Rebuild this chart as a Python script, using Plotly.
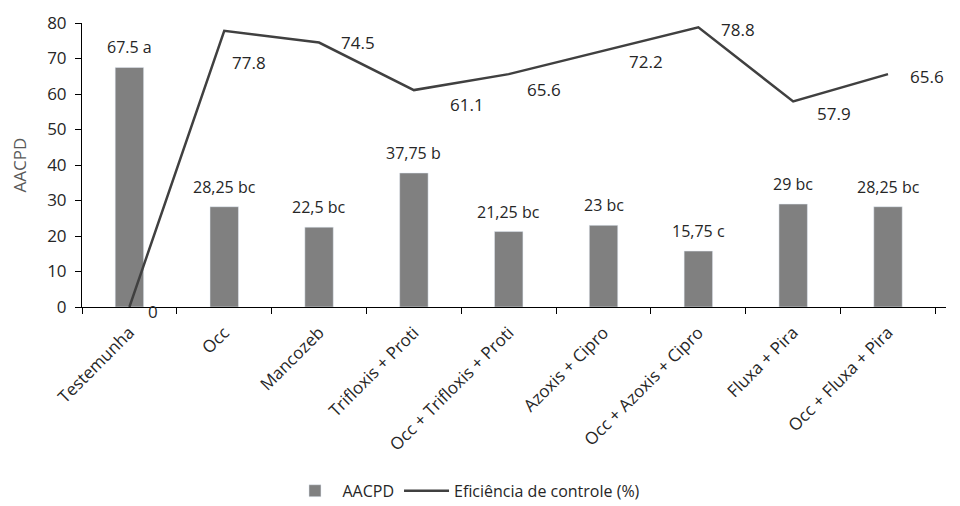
import plotly.graph_objects as go

# Treatments and results
tratamentos = ["Testemunha", "Occ", "Mancozeb", "Trifloxis + Proti", "Occ + Trifloxis + Proti",
               "Azoxis + Cipro", "Occ + Azoxis + Cipro", "Fluxa + Pira", "Occ + Fluxa + Pira"]
aacpd = [67.5, 28.25, 22.5, 37.75, 21.25, 23, 15.75, 29, 28.25]
aacpd_rotulos = ["67.5 a", "28,25 bc", "22,5 bc", "37,75 b", "21,25 bc", "23 bc", "15,75 c", "29 bc", "28,25 bc"]
eficiencia = [0, 77.8, 74.5, 61.1, 65.6, 72.2, 78.8, 57.9, 65.6]

# Label offsets (px) for the efficiency values
ef_dx = [24, 25, 39, 53, 35, 42, 40, 41, 39]
ef_dy = [-4, -32, 0, -14, -15, -11, -2, -12, -2]

FONT = "Open Sans"
TXT = "#262626"

fig = go.Figure()
fig.add_trace(go.Bar(x=tratamentos, y=aacpd, name="AACPD", marker_color="#808080",
                     width=0.3))
fig.add_trace(go.Scatter(x=tratamentos, y=eficiencia, name="Eficiência de controle (%)",
                         mode="lines", line=dict(color="#404040", width=2.5)))

for t, v, s in zip(tratamentos, aacpd, aacpd_rotulos):
    fig.add_annotation(x=t, y=v, text=s, showarrow=False, yshift=20,
                       font=dict(family=FONT, size=16, color=TXT))
for t, v, dx, dy in zip(tratamentos, eficiencia, ef_dx, ef_dy):
    fig.add_annotation(x=t, y=v, text=f"{v:g}", showarrow=False, xshift=dx, yshift=dy,
                       font=dict(family=FONT, size=17, color=TXT))

fig.update_layout(
    width=960, height=506,
    margin=dict(l=82, r=14, t=23, b=199),
    plot_bgcolor="white", paper_bgcolor="white",
    font=dict(family=FONT, size=16, color=TXT),
    showlegend=True,
    legend=dict(orientation="h", x=0.445, xanchor="center", yref="container",
                y=0.03, yanchor="middle",
                font=dict(family=FONT, size=16, color=TXT), itemwidth=45),
    bargap=0.7,
)
fig.update_xaxes(showline=True, linecolor="#000000", linewidth=1, ticks="outside",
                 tickson="boundaries", ticklen=6, tickcolor="#000000", tickangle=-45,
                 showgrid=False, automargin=False, ticklabelstandoff=8,
                 tickfont=dict(family=FONT, size=17, color=TXT))
fig.update_yaxes(range=[0, 80], dtick=10, showline=True, linecolor="#000000", linewidth=1,
                 ticks="outside", ticklen=6, tickcolor="#000000", showgrid=False,
                 zeroline=False, automargin=False, ticklabelstandoff=5,
                 tickfont=dict(family=FONT, size=17, color=TXT),
                 title=dict(text="AACPD", font=dict(family=FONT, size=17, color="#595959"),
                            standoff=16))

fig.write_html("out.html")
